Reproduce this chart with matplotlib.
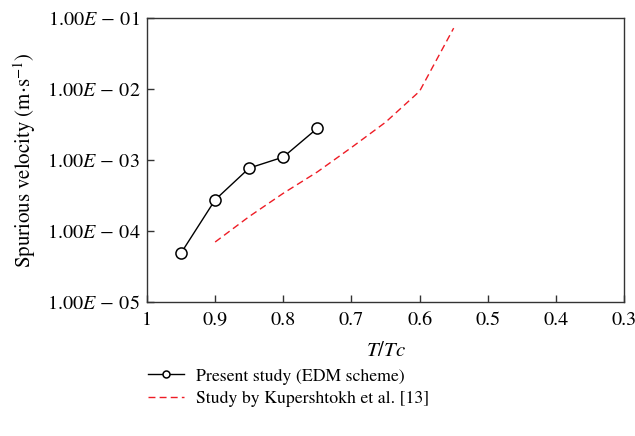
import matplotlib
matplotlib.use('Agg')
import matplotlib.pyplot as plt
import numpy as np

plt.rcParams['font.family'] = 'STIXGeneral'
plt.rcParams['mathtext.fontset'] = 'stix'

# ---------------- datos ----------------
t_edm = [0.95, 0.90, 0.85, 0.80, 0.75]
v_edm = [4.9e-5, 2.75e-4, 7.7e-4, 1.1e-3, 2.8e-3]

t_kup = [0.90, 0.85, 0.80, 0.75, 0.70, 0.65, 0.60, 0.55]
v_kup = [7.0e-5, 1.6e-4, 3.4e-4, 6.8e-4, 1.5e-3, 3.4e-3, 9.3e-3, 7.2e-2]

y_ticks = [1e-5, 1e-4, 1e-3, 1e-2, 1e-1]
y_labels = [r'$1.00\mathit{E}\,-\,05$', r'$1.00\mathit{E}\,-\,04$', r'$1.00\mathit{E}\,-\,03$',
            r'$1.00\mathit{E}\,-\,02$', r'$1.00\mathit{E}\,-\,01$']
x_ticks = [1, 0.9, 0.8, 0.7, 0.6, 0.5, 0.4, 0.3]
x_labels = ['1', '0.9', '0.8', '0.7', '0.6', '0.5', '0.4', '0.3']

fig = plt.figure(figsize=(6.35, 4.36), dpi=100)
ax = fig.add_axes([0.2315, 0.3073, 0.7512, 0.6514])

l1, = ax.plot(t_edm, v_edm, color='black', linewidth=1, marker='o', markersize=8,
              markerfacecolor='white', markeredgecolor='black', markeredgewidth=1.1,
              label='Present study (EDM scheme)')
l2, = ax.plot(t_kup, v_kup, color='#ee1c25', linestyle=(0, (5, 3)), linewidth=1,
              label='Study by Kupershtokh et al. [13]')

ax.set_yscale('log')
ax.set_ylim(1e-5, 1e-1)
ax.set_xlim(1, 0.3)
ax.set_yticks(y_ticks)
ax.set_yticklabels(y_labels)
ax.yaxis.set_minor_locator(matplotlib.ticker.NullLocator())
ax.set_xticks(x_ticks)
ax.set_xticklabels(x_labels)

ax.tick_params(direction='in', length=5, width=1, labelsize=14.5, colors='#333333', labelcolor='black')
ax.tick_params(axis='x', pad=7)
ax.tick_params(axis='y', pad=5)
for s in ax.spines.values():
    s.set_color('#333333')
    s.set_linewidth(1)

ax.set_xlabel(r'$T/Tc$', fontsize=15, labelpad=9)
ax.set_ylabel(r'Spurious velocity (m$\cdot$s$^{-1}$)', fontsize=15, labelpad=6)

leg = fig.legend(handles=[l1, l2], loc='upper left', bbox_to_anchor=(0.222, 0.172), frameon=False,
                 fontsize=12.8, handlelength=2.0, handletextpad=0.7, labelspacing=0.35, borderaxespad=0)
leg.legend_handles[0].set_markersize(5)

fig.savefig('out.png', dpi=100)
